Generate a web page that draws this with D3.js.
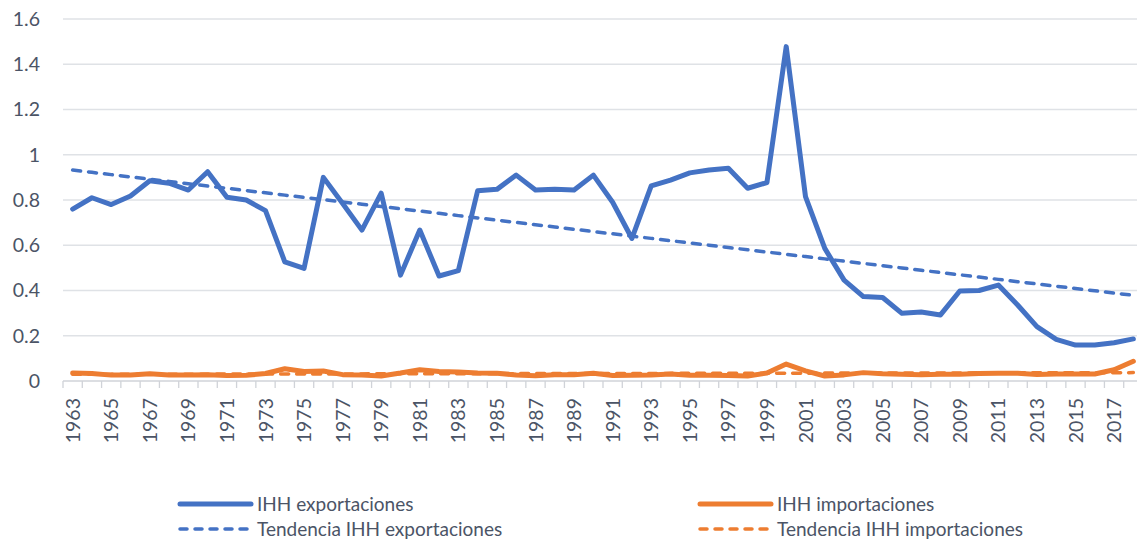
<!DOCTYPE html>
<html>
<head>
<meta charset="utf-8">
<script src="https://cdn.jsdelivr.net/npm/d3@7"></script>
<style>
  body { margin: 0; background: #fff; }
  svg { display: block; font-family: Lato, "Open Sans", sans-serif; }
</style>
</head>
<body>
<script>
// Années
const years = d3.range(1963, 2019);

// IHH exportaciones
const exportaciones = [
  0.76, 0.81, 0.78, 0.818, 0.885, 0.874, 0.844, 0.925, 0.812, 0.80,
  0.753, 0.527, 0.498, 0.90, 0.785, 0.667, 0.83, 0.468, 0.667, 0.464,
  0.488, 0.841, 0.847, 0.91, 0.844, 0.847, 0.844, 0.91, 0.79, 0.63,
  0.862, 0.888, 0.92, 0.933, 0.94, 0.852, 0.877, 1.478, 0.815, 0.586,
  0.446, 0.373, 0.369, 0.299, 0.305, 0.292, 0.398, 0.40, 0.424, 0.336,
  0.24, 0.184, 0.159, 0.159, 0.169, 0.186
];

// IHH importaciones
const importaciones = [
  0.035, 0.033, 0.026, 0.027, 0.032, 0.026, 0.026, 0.028, 0.024, 0.025,
  0.033, 0.054, 0.042, 0.044, 0.028, 0.026, 0.022, 0.035, 0.05, 0.042,
  0.04, 0.035, 0.034, 0.027, 0.023, 0.028, 0.028, 0.034, 0.024, 0.025,
  0.026, 0.031, 0.025, 0.025, 0.024, 0.022, 0.035, 0.075, 0.045, 0.022,
  0.027, 0.037, 0.032, 0.03, 0.028, 0.03, 0.03, 0.033, 0.034, 0.034,
  0.029, 0.031, 0.031, 0.031, 0.05, 0.087
];

const yTicks = [0, 0.2, 0.4, 0.6, 0.8, 1, 1.2, 1.4, 1.6];
const xLabelYears = years.filter((y, i) => i % 2 === 0);

const BLUE = "#4472C4";
const ORANGE = "#ED7D31";
const TEXT = "#4b5466";

const width = 1137, height = 540;

// Tendance linéaire (moindres carrés, comme Excel)
function trend(values) {
  const n = values.length;
  const xs = d3.range(1, n + 1);
  const mx = d3.mean(xs), my = d3.mean(values);
  let num = 0, den = 0;
  for (let i = 0; i < n; i++) {
    num += (xs[i] - mx) * (values[i] - my);
    den += (xs[i] - mx) * (xs[i] - mx);
  }
  const b = num / den, a = my - b * mx;
  return xs.map(x => a + b * x);
}

const svg = d3.select("body").append("svg")
  .attr("width", width)
  .attr("height", height);

const x = d3.scaleBand()
  .domain(years)
  .range([63, 1143])
  .padding(0);

const y = d3.scaleLinear()
  .domain([0, 1.6])
  .range([381, 19]);

const cx = d => x(d) + x.bandwidth() / 2;

// Grille horizontale
svg.append("g")
  .selectAll("line")
  .data(yTicks.filter(t => t > 0))
  .enter()
  .append("line")
  .attr("x1", 63)
  .attr("x2", width)
  .attr("y1", d => y(d))
  .attr("y2", d => y(d))
  .style("stroke", "#dfe2e6")
  .style("stroke-width", 1.3);

// Axe Y
const yAxis = svg.append("g")
  .attr("transform", "translate(57,0)")
  .call(d3.axisLeft(y).tickValues(yTicks).tickSize(0).tickPadding(0).tickFormat(d3.format("")));
yAxis.select(".domain").remove();
yAxis.selectAll("text")
  .attr("x", -17)
  .style("font-size", "19.5px")
  .style("fill", TEXT)
  .style("font-family", "Lato, sans-serif");

// Axe X
svg.append("line")
  .attr("x1", 63).attr("x2", width)
  .attr("y1", y(0)).attr("y2", y(0))
  .style("stroke", "#d0d3d8")
  .style("stroke-width", 1.3);

svg.append("g")
  .selectAll("line")
  .data(d3.range(years.length + 1))
  .enter()
  .append("line")
  .attr("x1", i => 63 + i * x.bandwidth())
  .attr("x2", i => 63 + i * x.bandwidth())
  .attr("y1", y(0))
  .attr("y2", y(0) + 7)
  .style("stroke", "#d0d3d8")
  .style("stroke-width", 1.3);

svg.append("g")
  .selectAll("text")
  .data(xLabelYears)
  .enter()
  .append("text")
  .attr("transform", d => `translate(${cx(d) + 7},398) rotate(-90)`)
  .attr("text-anchor", "end")
  .text(d => d)
  .style("font-size", "19.5px")
  .style("fill", TEXT);

// Séries
const line = d3.line()
  .x((d, i) => cx(years[i]))
  .y(d => y(d));

const series = [
  { values: trend(importaciones), color: ORANGE, dashed: true },
  { values: importaciones, color: ORANGE, dashed: false },
  { values: trend(exportaciones), color: BLUE, dashed: true },
  { values: exportaciones, color: BLUE, dashed: false }
];

svg.append("g")
  .selectAll("path")
  .data(series)
  .enter()
  .append("path")
  .attr("d", d => line(d.values))
  .style("fill", "none")
  .style("stroke", d => d.color)
  .style("stroke-width", d => d.dashed ? 3.5 : 5)
  .style("stroke-linejoin", "round")
  .style("stroke-linecap", "round")
  .style("stroke-dasharray", d => d.dashed ? "8,8" : null);

// Légende
const legendItems = [
  { label: "IHH exportaciones", color: BLUE, dashed: false, x: 180, y: 504 },
  { label: "IHH importaciones", color: ORANGE, dashed: false, x: 700, y: 504 },
  { label: "Tendencia IHH exportaciones", color: BLUE, dashed: true, x: 180, y: 529 },
  { label: "Tendencia IHH importaciones", color: ORANGE, dashed: true, x: 700, y: 529 }
];

const legend = svg.append("g")
  .selectAll("g")
  .data(legendItems)
  .enter()
  .append("g")
  .attr("transform", d => `translate(${d.x},${d.y})`);

legend.append("line")
  .attr("x1", 0).attr("x2", 71)
  .attr("y1", 0).attr("y2", 0)
  .style("stroke", d => d.color)
  .style("stroke-width", d => d.dashed ? 3.5 : 5)
  .style("stroke-linecap", "round")
  .style("stroke-dasharray", d => d.dashed ? "7,8" : null);

legend.append("text")
  .attr("x", 77)
  .attr("dy", "0.35em")
  .text(d => d.label)
  .style("font-size", "19px")
  .style("fill", TEXT);
</script>
</body>
</html>
